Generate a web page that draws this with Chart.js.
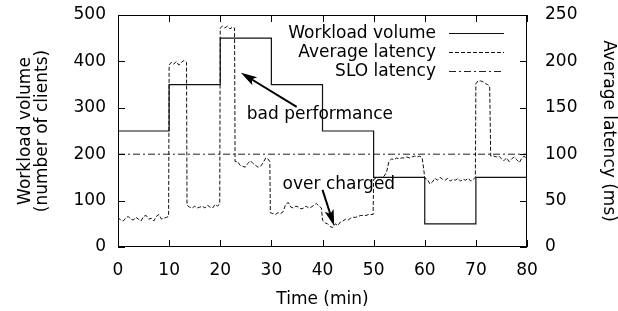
<!DOCTYPE html>
<html><head><meta charset="utf-8">
<script src="https://cdn.jsdelivr.net/npm/chart.js@4"></script>
<style>html,body{margin:0;padding:0;background:#fff;} #c{display:block;}</style>
</head><body>
<canvas id="c" width="618" height="311" style="width:618px;height:311px"></canvas>
<script>
// ---- data ----
const timeTicks = [0, 10, 20, 30, 40, 50, 60, 70, 80];
const workloadTime = [0, 10, 20, 30, 40, 50, 60, 70, 80];
const workloadClients = [250, 350, 450, 350, 250, 150, 50, 150, 150];

const latencyTime = [
  0,0.5,1,1.5,2,2.5,3,3.5,4,4.5,5,5.5,6,6.5,7,7.5,8,8.5,9,9.5,9.9,
  10,10.4,10.9,11.4,11.9,12.4,12.9,13.4,13.5,
  14,14.5,15,15.5,16,16.5,17,17.5,18,18.5,19,19.5,19.9,
  20,20.4,20.9,21.4,21.9,22.4,22.8,22.9,
  23.4,23.9,24.4,24.9,25.4,25.9,26.4,26.9,27.4,27.9,28.4,28.9,29.3,29.7,29.8,
  30.3,30.8,31.3,31.8,32.3,32.8,33.3,33.8,34.3,34.8,35.3,35.8,36.3,36.8,37.3,37.8,38.3,38.8,39.3,39.8,
  40,40.5,41,41.5,42,42.5,43,43.5,44,44.5,45,45.5,46,46.5,47,47.5,48,48.5,49,49.5,49.9,
  50,50.5,51,51.5,52,52.5,53,53.5,54,54.5,55,55.5,56,56.5,57,57.5,58,58.5,59,59.5,59.8,
  60,60.5,61,61.5,62,62.5,63,63.5,64,64.5,65,65.5,66,66.5,67,67.5,68,68.5,69,69.5,69.9,
  70,70.4,70.9,71.4,71.9,72.3,72.7,72.9,
  73.5,74,74.5,75,75.5,76,76.5,77,77.5,78,78.5,79,79.5,80
];
const latencyMs = [
  32,29,28,31,33,30,29,32,30,28,33,34,30,31,28,33,35,30,31,32,33,
  196,199,197,200,196,199,201,199,45,
  43,42,44,42,43,44,42,45,43,42,46,44,47,
  236,238,236,238,235,237,236,92,
  92,88,87,86,90,93,90,88,86,87,91,96,95,92,37,
  36,35,37,36,38,46,48,43,42,44,43,41,42,44,42,43,45,47,44,42,
  29,26,25,22,21,25,23,27,28,30,29,31,32,32,33,34,34,34,35,35,35,
  73,74,75,75,76,80,92,95,94,96,95,96,96,97,96,97,98,97,98,96,84,
  74,73,68,70,74,72,75,73,72,74,71,73,72,74,71,73,72,74,71,73,75,
  176,179,179,178,176,175,173,98,
  98,97,98,95,93,96,92,95,97,94,91,96,98,93
];
const sloTime = [0, 80];
const sloMs = [100, 100];

const workloadTicks = [0, 100, 200, 300, 400, 500];
const latencyTicks = [0, 50, 100, 150, 200, 250];

// ---- chart ----
const FONT = { family: 'DejaVu Sans', size: 17, lineHeight: 1.0 };
const INK = '#000';
const pts = (xs, ys) => xs.map((x, i) => ({ x, y: ys[i] }));

const framePlugin = {
  id: 'frame',
  afterDraw(chart) {
    const { ctx, chartArea: a, scales } = chart;
    const sx = scales.x, sy = scales.y, sy2 = scales.y2;
    ctx.save();
    ctx.strokeStyle = INK;
    ctx.lineWidth = 1;
    ctx.setLineDash([]);
    ctx.strokeRect(Math.round(a.left) + 0.5, Math.round(a.top) + 0.5,
      Math.round(a.right - a.left) - 1, Math.round(a.bottom - a.top) - 1);
    const TL = 7;
    ctx.beginPath();
    timeTicks.forEach(t => {
      const px = Math.round(sx.getPixelForValue(t)) + 0.5;
      ctx.moveTo(px, a.bottom); ctx.lineTo(px, a.bottom - TL);
      ctx.moveTo(px, a.top); ctx.lineTo(px, a.top + TL);
    });
    workloadTicks.forEach(v => {
      const py = Math.round(sy.getPixelForValue(v)) + 0.5;
      ctx.moveTo(a.left, py); ctx.lineTo(a.left + TL, py);
    });
    latencyTicks.forEach(v => {
      const py = Math.round(sy2.getPixelForValue(v)) + 0.5;
      ctx.moveTo(a.right, py); ctx.lineTo(a.right - TL, py);
    });
    ctx.stroke();

    // legend (text right-aligned, sample to the right)
    ctx.font = `${FONT.size}px ${FONT.family}`;
    ctx.fillStyle = INK;
    ctx.textAlign = 'right';
    ctx.textBaseline = 'middle';
    const rows = [33, 52, 71];
    chart.data.datasets.forEach((ds, i) => {
      const y = rows[i];
      ctx.fillText(ds.label, 436, y + 1);
      ctx.save();
      ctx.strokeStyle = ds.borderColor;
      ctx.lineWidth = ds.borderWidth;
      ctx.setLineDash(ds.borderDash || []);
      ctx.beginPath();
      ctx.moveTo(449, Math.round(y) + 0.5);
      ctx.lineTo(504, Math.round(y) + 0.5);
      ctx.stroke();
      ctx.restore();
    });

    // annotations (in data coordinates)
    const P = (t, v) => [sx.getPixelForValue(t), sy.getPixelForValue(v)];
    ctx.textAlign = 'center';
    let p = P(39.5, 285);
    ctx.fillText('bad performance', p[0], p[1]);
    p = P(43.2, 134);
    ctx.fillText('over charged', p[0], p[1]);

    const arrow = (from, to) => {
      const [x1, y1] = from, [x2, y2] = to;
      const ang = Math.atan2(y2 - y1, x2 - x1);
      const hl = 13, hw = 0.28;
      ctx.save();
      ctx.lineWidth = 2;
      ctx.strokeStyle = INK;
      ctx.fillStyle = INK;
      ctx.beginPath();
      ctx.moveTo(x1, y1);
      ctx.lineTo(x2 - Math.cos(ang) * 4, y2 - Math.sin(ang) * 4);
      ctx.stroke();
      ctx.lineWidth = 1.2;
      ctx.beginPath();
      ctx.moveTo(x2, y2);
      ctx.lineTo(x2 - hl * Math.cos(ang - hw), y2 - hl * Math.sin(ang - hw));
      ctx.lineTo(x2 - hl * 0.75 * Math.cos(ang), y2 - hl * 0.75 * Math.sin(ang));
      ctx.lineTo(x2 - hl * Math.cos(ang + hw), y2 - hl * Math.sin(ang + hw));
      ctx.closePath();
      ctx.fill();
      ctx.stroke();
      ctx.restore();
    };
    arrow(P(34.95, 302), P(24.4, 373));
    arrow(P(40.0, 123), P(42.15, 50));
    ctx.restore();
  }
};

new Chart(document.getElementById('c'), {
  type: 'line',
  data: {
    datasets: [
      { label: 'Workload volume', data: pts(workloadTime, workloadClients), yAxisID: 'y',
        borderColor: '#111', borderWidth: 1.2, stepped: true, pointRadius: 0, fill: false },
      { label: 'Average latency', data: pts(latencyTime, latencyMs), yAxisID: 'y2',
        borderColor: '#111', borderWidth: 1, borderDash: [4, 2], pointRadius: 0, fill: false, tension: 0 },
      { label: 'SLO latency', data: pts(sloTime, sloMs), yAxisID: 'y2',
        borderColor: '#222', borderWidth: 1, borderDash: [7, 3, 2, 3], pointRadius: 0, fill: false }
    ]
  },
  options: {
    responsive: false,
    devicePixelRatio: 1,
    animation: false,
    events: [],
    layout: { padding: { top: 15, left: 0, right: 0, bottom: 0 } },
    plugins: { legend: { display: false }, tooltip: { enabled: false } },
    scales: {
      x: {
        type: 'linear', position: 'bottom', min: 0, max: 80,
        afterBuildTicks: s => { s.ticks = timeTicks.map(v => ({ value: v })); },
        ticks: { font: FONT, color: INK, padding: 15, maxRotation: 0, autoSkip: false },
        grid: { display: false, drawTicks: false }, border: { display: false },
        title: { display: true, text: 'Time (min)', font: FONT, color: INK, padding: { top: 0, bottom: 2.5 } },
        afterFit: s => { s.height = 64; s.paddingLeft = 0; s.paddingRight = 0; }
      },
      y: {
        type: 'linear', position: 'left', min: 0, max: 500,
        afterBuildTicks: s => { s.ticks = workloadTicks.map(v => ({ value: v })); },
        ticks: { font: FONT, color: INK, padding: 12 },
        grid: { display: false, drawTicks: false }, border: { display: false },
        title: { display: true, text: ['Workload volume', '(number of clients)'], font: FONT, color: INK, padding: { top: 17, bottom: 0 } },
        afterFit: s => { s.width = 118; s.paddingTop = 0; s.paddingBottom = 0; }
      },
      y2: {
        type: 'linear', position: 'right', min: 0, max: 250,
        afterBuildTicks: s => { s.ticks = latencyTicks.map(v => ({ value: v })); },
        ticks: { font: FONT, color: INK, padding: 18 },
        grid: { display: false, drawTicks: false }, border: { display: false },
        title: { display: true, text: 'Average latency (ms)', font: FONT, color: INK, padding: { top: 1, bottom: 0 } },
        afterFit: s => { s.width = 91; s.paddingTop = 0; s.paddingBottom = 0; }
      }
    }
  },
  plugins: [framePlugin]
});
</script>
</body></html>
